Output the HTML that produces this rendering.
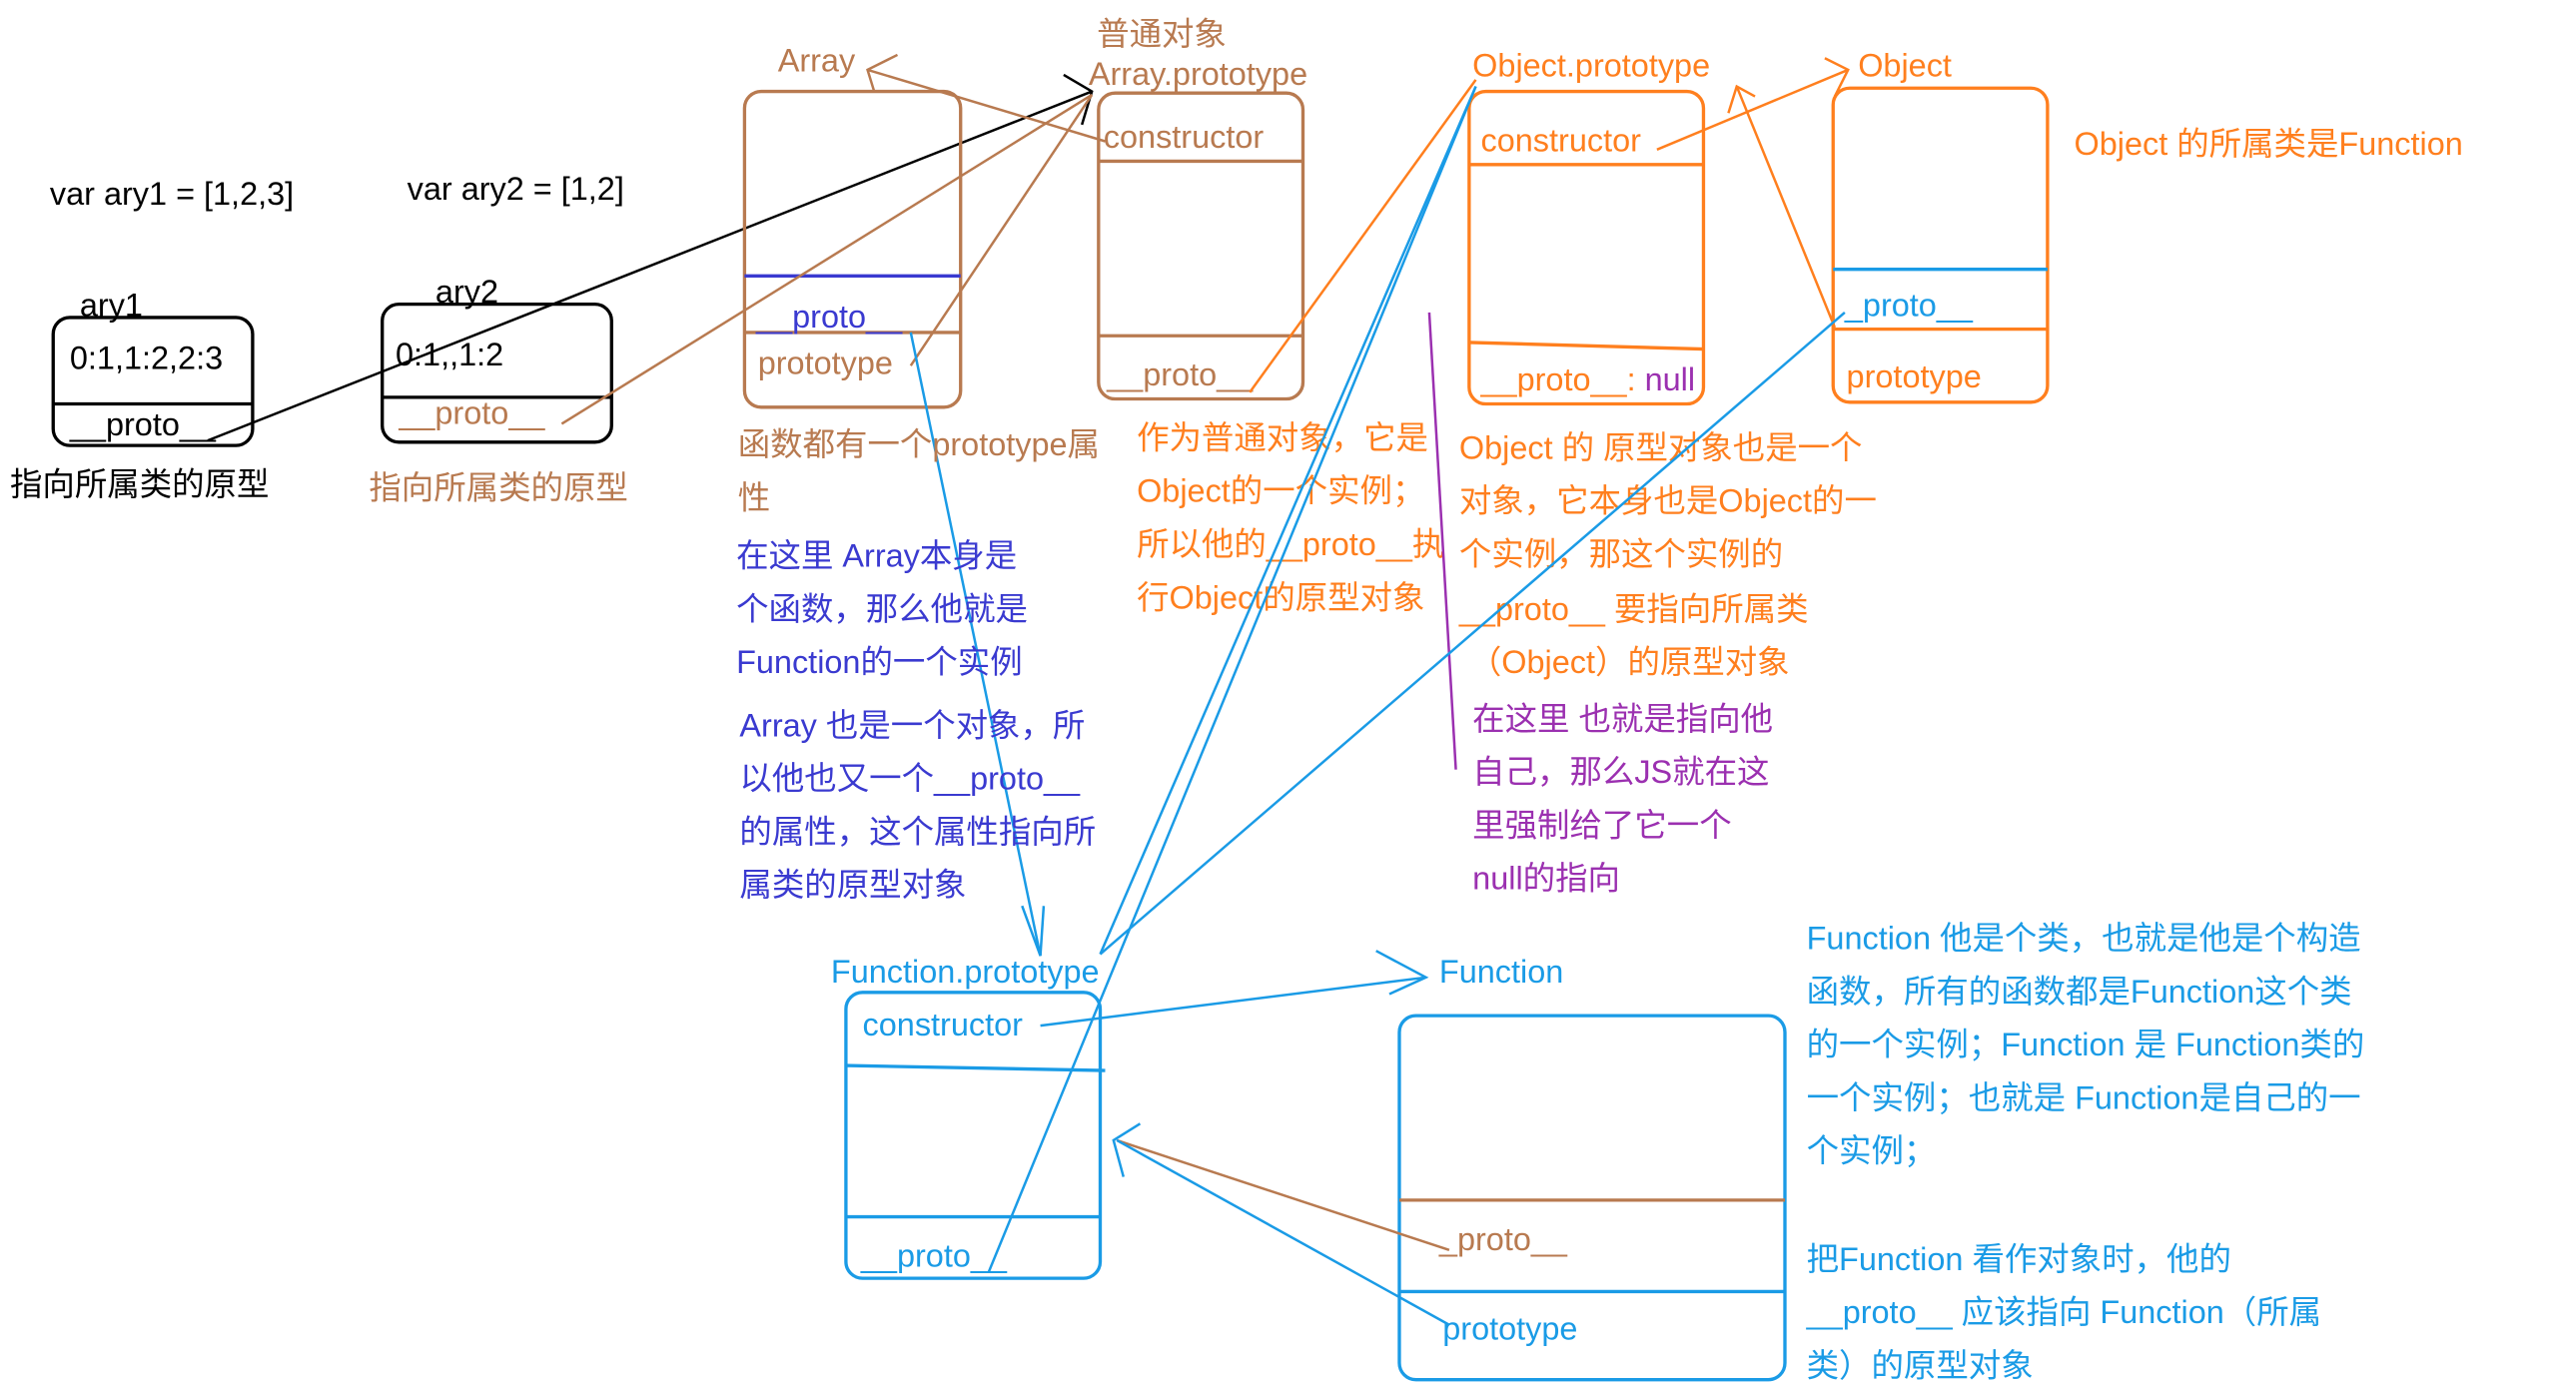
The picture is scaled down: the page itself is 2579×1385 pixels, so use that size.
<!DOCTYPE html>
<html><head><meta charset="utf-8"><style>
html,body{margin:0;padding:0;background:#fff;}
svg{display:block;}
text{font-family:"Liberation Sans","Noto Sans CJK SC",sans-serif;font-size:19.5px;}
</style></head><body>
<svg width="2579" height="1385" viewBox="0 0 1550 832" preserveAspectRatio="none" xmlns="http://www.w3.org/2000/svg">
<rect width="1550" height="832" fill="#fff"/>
<text x="30" y="123" fill="#000">var ary1 = [1,2,3]</text>
<text x="245" y="120" fill="#000">var ary2 = [1,2]</text>
<text x="48" y="190" fill="#000">ary1</text>
<rect x="32" y="191" width="120" height="77" rx="10" fill="none" stroke="#000" stroke-width="2"/>
<line x1="32" y1="243" x2="152" y2="243" stroke="#000" stroke-width="2"/>
<text x="42" y="222" fill="#000">0:1,1:2,2:3</text>
<text x="42" y="262" fill="#000">__proto__</text>
<text x="6" y="298" fill="#000">指向所属类的原型</text>
<text x="262" y="182" fill="#000">ary2</text>
<rect x="230" y="183" width="138" height="83" rx="10" fill="none" stroke="#000" stroke-width="2"/>
<line x1="230" y1="239" x2="368" y2="239" stroke="#000" stroke-width="2"/>
<text x="238" y="220" fill="#000">0:1,,1:2</text>
<text x="240" y="255" fill="#b87a50">__proto__</text>
<text x="222" y="300" fill="#b87a50">指向所属类的原型</text>
<line x1="125" y1="265" x2="657" y2="55" stroke="#000" stroke-width="1.5"/>
<polyline points="640,45 657,55 651,75" fill="none" stroke="#000" stroke-width="1.5"/>
<text x="468" y="43" fill="#b87a50">Array</text>
<polyline points="540,33 522,42 526,55" fill="none" stroke="#b87a50" stroke-width="1.5"/>
<line x1="522" y1="42" x2="665" y2="85" stroke="#b87a50" stroke-width="1.5"/>
<rect x="448" y="55" width="130" height="190" rx="10" fill="none" stroke="#b87a50" stroke-width="2"/>
<line x1="448" y1="166" x2="578" y2="166" stroke="#3a3ad0" stroke-width="2"/>
<line x1="448" y1="200" x2="578" y2="200" stroke="#b87a50" stroke-width="2"/>
<text x="455" y="197" fill="#3a3ad0">__proto__</text>
<text x="456" y="225" fill="#b87a50">prototype</text>
<line x1="338" y1="255" x2="657" y2="57" stroke="#b87a50" stroke-width="1.5"/>
<line x1="548" y1="220" x2="657" y2="57" stroke="#b87a50" stroke-width="1.5"/>
<line x1="548" y1="200" x2="626" y2="575" stroke="#1a9be6" stroke-width="1.5"/>
<polyline points="615,545 626,575 628,545" fill="none" stroke="#1a9be6" stroke-width="1.5"/>
<text x="444" y="274" fill="#b87a50">函数都有一个prototype属</text>
<text x="444" y="306" fill="#b87a50">性</text>
<g fill="#3a3ad0">
<text x="443" y="341">在这里 Array本身是</text>
<text x="443" y="373">个函数，那么他就是</text>
<text x="443" y="405">Function的一个实例</text>
<text x="445" y="443">Array 也是一个对象，所</text>
<text x="445" y="475">以他也又一个__proto__</text>
<text x="445" y="507">的属性，这个属性指向所</text>
<text x="445" y="539">属类的原型对象</text>
</g>
<text x="660" y="27" fill="#b87a50">普通对象</text>
<text x="655" y="51" fill="#b87a50">Array.prototype</text>
<rect x="661" y="56" width="123" height="184" rx="10" fill="none" stroke="#b87a50" stroke-width="2"/>
<line x1="661" y1="97" x2="784" y2="97" stroke="#b87a50" stroke-width="2"/>
<line x1="661" y1="202" x2="784" y2="202" stroke="#b87a50" stroke-width="2"/>
<text x="664" y="89" fill="#b87a50">constructor</text>
<text x="666" y="232" fill="#b87a50">__proto__</text>
<line x1="752" y1="236" x2="888" y2="48" stroke="#ff7f1e" stroke-width="1.5"/>
<g fill="#ff7f1e">
<text x="684" y="270">作为普通对象，它是</text>
<text x="684" y="302">Object的一个实例；</text>
<text x="684" y="334">所以他的__proto__执</text>
<text x="684" y="366">行Object的原型对象</text>
</g>
<text x="886" y="46" fill="#ff7f1e">Object.prototype</text>
<rect x="884" y="55" width="141" height="188" rx="10" fill="none" stroke="#ff7f1e" stroke-width="2"/>
<line x1="884" y1="99" x2="1025" y2="99" stroke="#ff7f1e" stroke-width="2"/>
<line x1="884" y1="206" x2="1025" y2="210" stroke="#ff7f1e" stroke-width="2"/>
<text x="891" y="91" fill="#ff7f1e">constructor</text>
<text x="891" y="235" fill="#ff7f1e">__proto__: <tspan fill="#9b30b0">null</tspan></text>
<line x1="997" y1="90" x2="1112" y2="42" stroke="#ff7f1e" stroke-width="1.5"/>
<polyline points="1098,35 1112,42 1104,58" fill="none" stroke="#ff7f1e" stroke-width="1.5"/>
<line x1="1104" y1="197" x2="1045" y2="52" stroke="#ff7f1e" stroke-width="1.5"/>
<polyline points="1040,68 1045,52 1056,58" fill="none" stroke="#ff7f1e" stroke-width="1.5"/>
<g fill="#ff7f1e">
<text x="878" y="276">Object 的 原型对象也是一个</text>
<text x="878" y="308">对象，它本身也是Object的一</text>
<text x="878" y="340">个实例，那这个实例的</text>
<text x="878" y="373">__proto__ 要指向所属类</text>
<text x="884" y="405">（Object）的原型对象</text>
</g>
<line x1="860" y1="188" x2="876" y2="463" stroke="#9b30b0" stroke-width="1.5"/>
<g fill="#9b30b0">
<text x="886" y="439">在这里 也就是指向他</text>
<text x="886" y="471">自己，那么JS就在这</text>
<text x="886" y="503">里强制给了它一个</text>
<text x="886" y="535">null的指向</text>
</g>
<text x="1118" y="46" fill="#ff7f1e">Object</text>
<rect x="1103" y="53" width="129" height="189" rx="10" fill="none" stroke="#ff7f1e" stroke-width="2"/>
<line x1="1103" y1="162" x2="1232" y2="162" stroke="#1a9be6" stroke-width="2"/>
<line x1="1103" y1="198" x2="1232" y2="198" stroke="#ff7f1e" stroke-width="2"/>
<text x="1110" y="190" fill="#1a9be6">_proto__</text>
<text x="1111" y="233" fill="#ff7f1e">prototype</text>
<text x="1248" y="93" fill="#ff7f1e">Object 的所属类是Function</text>
<line x1="1110" y1="188" x2="662" y2="574" stroke="#1a9be6" stroke-width="1.5"/>
<line x1="888" y1="52" x2="662" y2="574" stroke="#1a9be6" stroke-width="1.5"/>
<line x1="595" y1="765" x2="888" y2="52" stroke="#1a9be6" stroke-width="1.5"/>
<text x="500" y="591" fill="#1a9be6">Function.prototype</text>
<rect x="509" y="597" width="153" height="172" rx="10" fill="none" stroke="#1a9be6" stroke-width="2"/>
<line x1="509" y1="641" x2="665" y2="644" stroke="#1a9be6" stroke-width="2"/>
<line x1="509" y1="732" x2="662" y2="732" stroke="#1a9be6" stroke-width="2"/>
<text x="519" y="623" fill="#1a9be6">constructor</text>
<text x="518" y="762" fill="#1a9be6">__proto__</text>
<line x1="626" y1="617" x2="858" y2="588" stroke="#1a9be6" stroke-width="1.5"/>
<polyline points="828,572 858,588 836,598" fill="none" stroke="#1a9be6" stroke-width="1.5"/>
<text x="866" y="591" fill="#1a9be6">Function</text>
<rect x="842" y="611" width="232" height="219" rx="10" fill="none" stroke="#1a9be6" stroke-width="2"/>
<line x1="842" y1="722" x2="1074" y2="722" stroke="#b87a50" stroke-width="2"/>
<line x1="842" y1="777" x2="1074" y2="777" stroke="#1a9be6" stroke-width="2"/>
<text x="866" y="752" fill="#b87a50">_proto__</text>
<text x="868" y="806" fill="#1a9be6">prototype</text>
<line x1="872" y1="752" x2="672" y2="686" stroke="#b87a50" stroke-width="1.5"/>
<line x1="872" y1="797" x2="672" y2="686" stroke="#1a9be6" stroke-width="1.5"/>
<polyline points="686,676 670,686 676,708" fill="none" stroke="#1a9be6" stroke-width="1.5"/>
<g fill="#1a9be6">
<text x="1087" y="571">Function 他是个类，也就是他是个构造</text>
<text x="1087" y="603">函数，所有的函数都是Function这个类</text>
<text x="1087" y="635">的一个实例；Function 是 Function类的</text>
<text x="1087" y="667">一个实例；也就是 Function是自己的一</text>
<text x="1087" y="699">个实例；</text>
<text x="1087" y="764">把Function 看作对象时，他的</text>
<text x="1087" y="796">__proto__ 应该指向 Function（所属</text>
<text x="1087" y="828">类）的原型对象</text>
</g>
</svg>
</body></html>
